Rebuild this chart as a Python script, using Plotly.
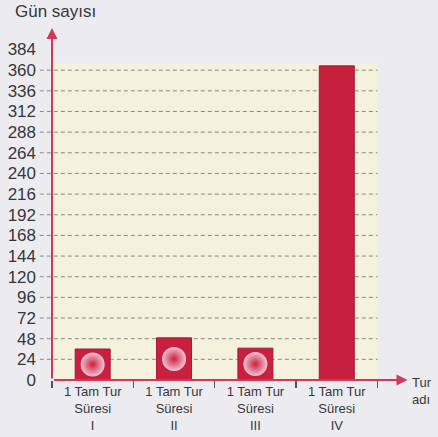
import plotly.graph_objects as go

# ---- data ----
roman = ["I", "II", "III", "IV"]
categories = ["1 Tam Tur<br>Süresi<br>" + r for r in roman]
days = [36, 49, 37, 365]
y_ticks = list(range(0, 385, 24))
y_title = "Gün sayısı"
x_title = "Tur<br>adı"

BAR = "#c8203f"
AXIS_RED = "#d3385b"
TXT = "#36363b"
YELLOW = "#f4f1dc"
PAPER = "#ececf0"
FONT = "Liberation Sans"

fig = go.Figure()

fig.add_trace(go.Bar(
    x=categories, y=days, width=0.43,
    marker=dict(color=BAR, line=dict(color="#a3173a", width=1)),
    hoverinfo="skip",
))

# soft highlight in the middle of the short bars
glow_x = categories[:3]
glow_y = [v / 2 for v in days[:3]]
fig.add_trace(go.Scatter(
    x=glow_x, y=glow_y, mode="markers",
    marker=dict(size=24, color="#f2c4cf",
                gradient=dict(type="radial", color=BAR),
                line=dict(width=0)),
    hoverinfo="skip",
))

shapes = []
# yellow panel
shapes.append(dict(type="rect", xref="paper", yref="y", x0=0, x1=0.909,
                   y0=0, y1=368, fillcolor=YELLOW, line=dict(width=0),
                   layer="below"))
# dashed grid lines
for v in y_ticks:
    if 0 < v <= 360:
        shapes.append(dict(type="line", xref="paper", yref="y",
                           x0=-0.034, x1=0.909, y0=v, y1=v,
                           line=dict(color="#8a8a8a", width=1, dash="4px,3px"),
                           layer="below"))

annotations = [
    dict(text=y_title, xref="paper", yref="paper", x=-0.11, y=1.047,
         xanchor="left", yanchor="middle", showarrow=False,
         font=dict(size=17, color=TXT, family=FONT)),
    dict(text=x_title, xref="paper", yref="paper", x=1.0, y=-0.032,
         xanchor="left", yanchor="middle", align="left", showarrow=False,
         font=dict(size=13, color=TXT, family=FONT)),
    # y axis arrow
    dict(text="", xref="paper", yref="paper", x=0, y=1.0, ax=0, ay=352,
         showarrow=True, arrowhead=2, arrowsize=1.1, arrowwidth=2,
         arrowcolor=AXIS_RED, standoff=0, startstandoff=0),
    # x axis arrow
    dict(text="", xref="paper", yref="paper", x=0.993, y=0, ax=-355, ay=0,
         showarrow=True, arrowhead=2, arrowsize=1.1, arrowwidth=2,
         arrowcolor=AXIS_RED, standoff=0, startstandoff=0),
]

fig.update_layout(
    width=438, height=437,
    margin=dict(l=52, r=28, t=28, b=57, autoexpand=False),
    paper_bgcolor=PAPER, plot_bgcolor="rgba(0,0,0,0)",
    showlegend=False,
    shapes=shapes, annotations=annotations,
    font=dict(family=FONT, color=TXT),
)
fig.update_xaxes(
    type="category", range=[-0.5, 3.9], showgrid=False, showline=False,
    zeroline=False, ticks="outside", tickson="boundaries", ticklen=7,
    tickwidth=1.5, tickcolor="#555", tickfont=dict(size=13, color=TXT),
    ticklabelstandoff=2, fixedrange=True, automargin=False,
)
fig.update_yaxes(
    range=[0, 409], tickvals=y_ticks, showgrid=False, showline=False,
    zeroline=False, ticks="", ticklabelstandoff=15,
    tickfont=dict(size=17, color=TXT), fixedrange=True, automargin=False,
)

fig.write_html(
    "out.html",
    config={"displayModeBar": False, "staticPlot": True},
    post_script="document.body.style.margin='0';"
                "document.body.style.background='%s';" % PAPER,
)
